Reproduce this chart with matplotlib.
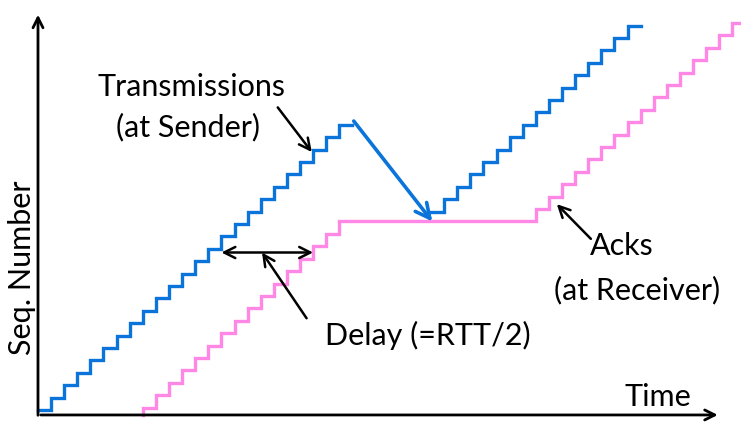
import numpy as np
import matplotlib.pyplot as plt

# sender transmissions (time in packet slots, seq numbers)
send_t1 = [0, 1, 2, 3, 4, 5, 6, 7, 8, 9, 10, 11, 12, 13, 14, 15, 16, 17, 18, 19, 20, 21, 22, 23, 24]
send_s1 = [0, 1, 2, 3, 4, 5, 6, 7, 8, 9, 10, 11, 12, 13, 14, 15, 16, 17, 18, 19, 20, 21, 22, 23, 23]
send_t2 = [30, 31, 32, 33, 34, 35, 36, 37, 38, 39, 40, 41, 42, 43, 44, 45, 46]
send_s2 = [16, 17, 18, 19, 20, 21, 22, 23, 24, 25, 26, 27, 28, 29, 30, 31, 31]

# acks at receiver
ack_t = [8, 8, 9, 10, 11, 12, 13, 14, 15, 16, 17, 18, 19, 20, 21, 22, 23,
         38, 39, 40, 41, 42, 43, 44, 45, 46, 47, 48, 49, 50, 51, 52, 53, 55]
ack_s = [-0.4, 0.2, 1.2, 2.2, 3.2, 4.2, 5.2, 6.2, 7.2, 8.2, 9.2, 10.2, 11.2, 12.2, 13.2, 14.2, 15.2,
         16.2, 17.2, 18.2, 19.2, 20.2, 21.2, 22.2, 23.2, 24.2, 25.2, 26.2, 27.2, 28.2, 29.2, 30.2, 31.2, 31.2]

blue = '#0A74DA'
pink = '#FF88E6'
font = ['Lato', 'DejaVu Sans']
fs = 22

fig = plt.figure(figsize=(7.41, 4.23), dpi=100)
ax = fig.add_axes([0, 0, 1, 1])
ax.set_xlim(-2.90, 53.66)
ax.set_ylim(-1.048, 33.06)
ax.axis('off')

ax.plot(send_t1, send_s1, drawstyle='steps-post', color=blue, lw=2.4, solid_joinstyle='miter')
ax.plot(send_t2, send_s2, drawstyle='steps-post', color=blue, lw=2.4, solid_joinstyle='miter')
ax.plot(ack_t, ack_s, drawstyle='steps-post', color=pink, lw=2.4, solid_joinstyle='miter')

# axes with arrows
ax.annotate('', xy=(0, 32.1), xytext=(0, -0.65),
            arrowprops=dict(arrowstyle='->', lw=2, color='black', mutation_scale=18))
ax.annotate('', xy=(52.1, -0.4), xytext=(0, -0.4),
            arrowprops=dict(arrowstyle='->', lw=2, color='black', mutation_scale=18))

# retransmission arrow (blue)
ax.annotate('', xy=(30.1, 15.2), xytext=(24.1, 23.3),
            arrowprops=dict(arrowstyle='->', lw=2.6, color=blue, mutation_scale=26,
                            shrinkA=0, shrinkB=0))

# delay double arrow
ax.annotate('', xy=(21.0, 12.7), xytext=(14.0, 12.7),
            arrowprops=dict(arrowstyle='<->', lw=1.8, color='black', mutation_scale=20,
                            shrinkA=0, shrinkB=0))
ax.annotate('', xy=(17.1, 12.7), xytext=(20.5, 7.4),
            arrowprops=dict(arrowstyle='->', lw=1.8, color='black', mutation_scale=20,
                            shrinkA=0, shrinkB=0))

# transmissions pointer
ax.annotate('', xy=(20.9, 20.8), xytext=(18.3, 24.4),
            arrowprops=dict(arrowstyle='->', lw=1.8, color='black', mutation_scale=20,
                            shrinkA=0, shrinkB=0))

# acks pointer
ax.annotate('', xy=(39.6, 16.6), xytext=(42.2, 13.8),
            arrowprops=dict(arrowstyle='->', lw=1.8, color='black', mutation_scale=20,
                            shrinkA=0, shrinkB=0))

def px(x, y):
    return x / 741, 1 - y / 423

txt = dict(transform=ax.transAxes, ha='center', va='center', fontsize=fs, family=font)
ax.text(*px(192, 87), 'Transmissions', **txt)
ax.text(*px(188, 127), '(at Sender)', **txt)
ax.text(*px(428, 335), 'Delay (=RTT/2)', **txt)
ax.text(*px(622, 246), 'Acks', **txt)
ax.text(*px(637, 290), '(at Receiver)', **txt)
ax.text(*px(658, 397), 'Time', **txt)
ax.text(*px(22, 268), 'Seq. Number', rotation=90, **txt)

fig.savefig('out.png', dpi=100)
